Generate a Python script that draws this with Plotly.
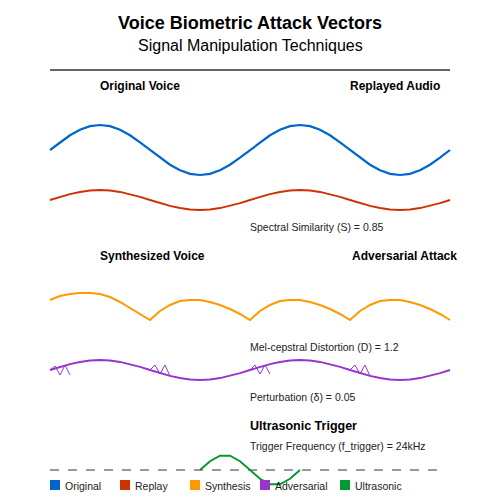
import plotly.graph_objects as go

X = list(range(50, 451, 10))
original = [150,142.3,135.3,129.8,126.2,125,126.2,129.8,135.3,142.3,150,157.7,164.7,170.2,173.8,175,173.8,170.2,164.7,157.7,
            150,142.3,135.3,129.8,126.2,125,126.2,129.8,135.3,142.3,150,157.7,164.7,170.2,173.8,175,173.8,170.2,164.7,157.7,150]
replay = [200,196.9,194.1,191.9,190.5,190,190.5,191.9,194.1,196.9,200,203.1,205.9,208.1,209.5,210,209.5,208.1,205.9,203.1,
          200,196.9,194.1,191.9,190.5,190,190.5,191.9,194.1,196.9,200,203.1,205.9,208.1,209.5,210,209.5,208.1,205.9,203.1,200]
synthesis = [300,296,294,293,293,294,297,302,308,314,
             320,311,305,301,300,300,302,305,309,314,
             320,311,305,301,300,300,302,305,309,314,
             320,311,305,301,300,300,302,305,309,314,320]
adversarial = [370,366.9,364.1,361.9,360.5,360,360.5,361.9,364.1,366.9,370,373.1,375.9,378.1,379.5,380,379.5,378.1,375.9,373.1,
               370,366.9,364.1,361.9,360.5,360,360.5,361.9,364.1,366.9,370,373.1,375.9,378.1,379.5,380,379.5,378.1,375.9,373.1,370]
zig_x = [50,55,60,65,70, None, 150,155,160,165,170, None, 250,255,260,265,270, None, 350,355,360,365,370]
zig_y = [370,366,375,365,375, None, 370,365,374,365,376, None, 370,365,374,365,374, None, 370,365,374,365,376]
ultra_x = [200,210,220,230,240,250,260,270,280,290,300]
ultra = [470,461.2,455.7,455.7,461.2,470,478.8,484.3,484.3,478.8,470]

fig = go.Figure()
fig.add_trace(go.Scatter(x=[50,445], y=[470,470], mode="lines", line=dict(color="#999", width=2, dash="dash")))
fig.add_trace(go.Scatter(x=X, y=original, mode="lines", line=dict(color="#0066CC", width=2.2)))
fig.add_trace(go.Scatter(x=X, y=replay, mode="lines", line=dict(color="#CC3300", width=2)))
fig.add_trace(go.Scatter(x=X, y=synthesis, mode="lines", line=dict(color="#FF9900", width=2)))
fig.add_trace(go.Scatter(x=X, y=adversarial, mode="lines", line=dict(color="#9933CC", width=2)))
fig.add_trace(go.Scatter(x=zig_x, y=zig_y, mode="lines", line=dict(color="#9933CC", width=1)))
fig.add_trace(go.Scatter(x=ultra_x, y=ultra, mode="lines", line=dict(color="#009933", width=2)))

fig.add_shape(type="line", x0=50, x1=450, y0=70, y1=70, line=dict(color="#666", width=2))

F = "Liberation Sans, Arial, sans-serif"
def txt(x, y, s, size=11, bold=False, anchor="left", color="#222"):
    fig.add_annotation(x=x, y=y, text=f"<b>{s}</b>" if bold else s, showarrow=False,
                       xanchor=anchor, yanchor="middle", font=dict(family=F, size=size, color=color))

txt(250, 23, "Voice Biometric Attack Vectors", 18, True, "center", "#000")
txt(250, 45, "Signal Manipulation Techniques", 16, False, "center", "#000")
txt(140, 86, "Original Voice", 12, True, "center", "#000")
txt(395, 86, "Replayed Audio", 12, True, "center", "#000")
txt(152, 256, "Synthesized Voice", 12, True, "center", "#000")
txt(404, 256, "Adversarial Attack", 12, True, "center", "#000")
txt(248, 227, "Spectral Similarity (S) = 0.85", 10.5)
txt(248, 347, "Mel-cepstral Distortion (D) = 1.2", 10.5)
txt(248, 397, "Perturbation (δ) = 0.05", 10.5)
txt(248, 426, "Ultrasonic Trigger", 12.5, True, "left", "#000")
txt(248, 446, "Trigger Frequency (f_trigger) = 24kHz", 10.5)

legend_names = ["Original", "Replay", "Synthesis", "Adversarial", "Ultrasonic"]
legend_colors = ["#0066CC", "#CC3300", "#FF9900", "#9933CC", "#009933"]
legend_x = [50, 120, 190, 260, 340]
for n, c, lx in zip(legend_names, legend_colors, legend_x):
    fig.add_shape(type="rect", x0=lx, x1=lx + 10, y0=480, y1=490, fillcolor=c, line=dict(width=0))
    txt(lx + 13, 486, n, 10.5)

fig.update_layout(width=500, height=500, margin=dict(l=0, r=0, t=0, b=0), showlegend=False,
                  plot_bgcolor="white", paper_bgcolor="white",
                  xaxis=dict(range=[8, 508], visible=False),
                  yaxis=dict(range=[508, 8], visible=False))
fig.write_html("out.html")
